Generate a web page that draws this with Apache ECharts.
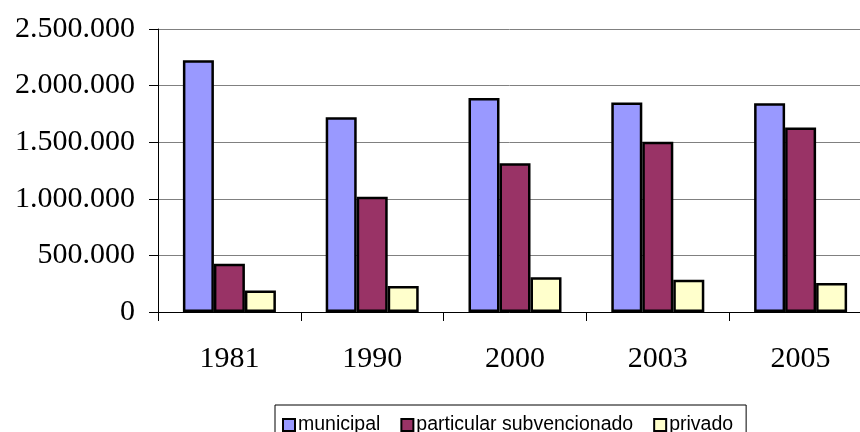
<!DOCTYPE html>
<html>
<head>
<meta charset="utf-8">
<script src="https://cdn.jsdelivr.net/npm/echarts@6/dist/echarts.min.js"></script>
<style>
  html, body { margin: 0; padding: 0; background: #fff; }
  #main { width: 860px; height: 432px; }
</style>
</head>
<body>
<div id="main"></div>
<script>
// datos
var years = ['1981', '1990', '2000', '2003', '2005'];
var municipal = [2225000, 1720000, 1891000, 1850000, 1844000];
var subvencionado = [426000, 1018000, 1313000, 1503000, 1629000];
var privado = [191000, 230000, 307000, 285000, 256000];
var nombres = ['municipal', 'particular subvencionado', 'privado'];
var colores = ['#9999FF', '#993366', '#FFFFCC'];

function miles(v) {
  return String(v).replace(/\B(?=(\d{3})+(?!\d))/g, '.');
}

var myChart = echarts.init(document.getElementById('main'));

function barra(name, data, color) {
  return {
    name: name,
    type: 'bar',
    data: data,
    barWidth: 31,
    barGap: '0%',
    itemStyle: { color: color, borderColor: '#000', borderWidth: 2.5 }
  };
}

var option = {
  animation: false,
  backgroundColor: '#fff',
  grid: { left: 158, top: 29, width: 714, height: 283, outerBoundsMode: 'none', containLabel: false },
  legend: {
    left: 275,
    top: 405,
    padding: [10, 13, 10, 7],
    borderColor: '#000',
    borderWidth: 1,
    itemWidth: 12,
    itemHeight: 12,
    itemGap: 20,
    icon: 'rect',
    textStyle: { fontFamily: 'Liberation Sans', fontSize: 19.5, color: '#000', padding: [0, 0, 0, -2] },
    data: nombres.map(function (n, i) {
      return {
        name: n,
        icon: 'rect',
        itemStyle: { color: colores[i], borderColor: '#000', borderWidth: 2 }
      };
    })
  },
  xAxis: {
    type: 'category',
    data: years,
    axisLine: { lineStyle: { color: '#000', width: 1 } },
    axisTick: { show: true, length: 9, lineStyle: { color: '#000' } },
    axisLabel: { margin: 32, fontFamily: 'Liberation Serif', fontSize: 30, color: '#000' }
  },
  yAxis: {
    type: 'value',
    min: 0,
    max: 2500000,
    interval: 500000,
    axisLine: { show: true, lineStyle: { color: '#000', width: 1 } },
    axisTick: { show: true, length: 9, lineStyle: { color: '#000' } },
    splitLine: { lineStyle: { color: '#808080', width: 1 } },
    axisLabel: {
      margin: 23,
      fontFamily: 'Liberation Serif',
      fontSize: 30,
      color: '#000',
      formatter: miles
    }
  },
  series: [
    barra(nombres[0], municipal, colores[0]),
    barra(nombres[1], subvencionado, colores[1]),
    barra(nombres[2], privado, colores[2])
  ]
};

myChart.setOption(option);
</script>
</body>
</html>
